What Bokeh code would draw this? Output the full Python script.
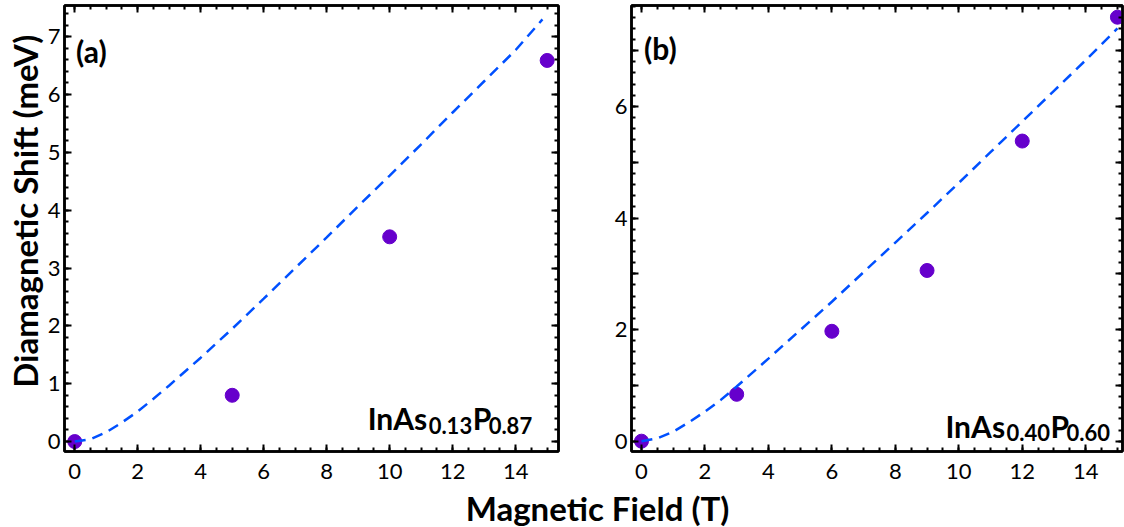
import numpy as np
from bokeh.plotting import figure
from bokeh.models import Range1d, LinearAxis, FixedTicker, Label
from bokeh.layouts import row, column
from bokeh.embed import file_html
from bokeh.resources import INLINE

# ---- measured data -------------------------------------------------------
field_a = [0, 5, 10, 15]
shift_a = [0.0, 0.80, 3.54, 6.59]

field_b = [0, 3, 6, 9, 12, 15]
shift_b = [0.0, 0.84, 1.97, 3.06, 5.38, 7.60]

# ---- fitted curves (sampled) ---------------------------------------------
fit_field_a = [0, 0.5, 1, 1.5, 2, 2.5, 3, 4, 5, 6, 7, 8, 9, 10, 11, 12, 13, 14, 14.85]
fit_shift_a = [0, 0.04, 0.16, 0.33, 0.52, 0.74, 0.97, 1.45, 1.95, 2.47, 3.00,
               3.53, 4.07, 4.60, 5.14, 5.69, 6.23, 6.77, 7.30]

fit_field_b = [0, 0.5, 1, 1.5, 2, 2.5, 3, 4, 5, 6, 7, 8, 9, 10, 11, 12, 13, 14, 15]
fit_shift_b = [0, 0.05, 0.17, 0.34, 0.53, 0.74, 0.98, 1.48, 1.99, 2.50, 3.03,
               3.56, 4.09, 4.63, 5.18, 5.73, 6.28, 6.83, 7.40]

x_ticks = [0, 2, 4, 6, 8, 10, 12, 14]
y_ticks_a = [0, 1, 2, 3, 4, 5, 6, 7]
y_ticks_b = [0, 1, 2, 3, 4, 5, 6, 7]
y_labels_b = {1: "", 3: "", 5: "", 7: ""}

FONT = "Lato"
POINT_COLOR = "#6600cc"
FIT_COLOR = "#0050ff"
ROW_H = 490
STRIP_W = 44


def style_axis(ax, ticks, show_labels=True):
    ax.axis_line_color = "black"
    ax.axis_line_width = 2.5
    ax.major_tick_line_color = "black"
    ax.minor_tick_line_color = "black"
    ax.major_tick_line_width = 2
    ax.minor_tick_line_width = 2
    ax.major_tick_in = 7
    ax.major_tick_out = 0
    ax.minor_tick_in = 4
    ax.minor_tick_out = 0
    ax.major_label_text_font = FONT
    ax.major_label_text_color = "black"
    ax.major_label_text_font_size = "22px"
    if not show_labels:
        ax.major_label_overrides = {t: "" for t in ticks}
        ax.major_label_standoff = 0


def make_panel(width, x_range, y_range, borders, y_major, y_minor):
    left, right, top, bottom = borders
    p = figure(width=width, height=ROW_H, x_range=Range1d(*x_range),
               y_range=Range1d(*y_range), output_backend="svg",
               toolbar_location=None, min_border_left=left,
               min_border_right=right, min_border_top=top,
               min_border_bottom=bottom, background_fill_color="white",
               border_fill_color="white")
    p.xgrid.visible = False
    p.ygrid.visible = False
    p.outline_line_color = "black"
    p.outline_line_width = 2.5

    x_minor = list(np.arange(0, 15.01, 0.5))
    xt = FixedTicker(ticks=x_ticks, minor_ticks=x_minor)
    yt = FixedTicker(ticks=y_major, minor_ticks=y_minor)

    p.xaxis.ticker = xt
    p.yaxis.ticker = yt
    style_axis(p.xaxis[0], x_ticks)
    style_axis(p.yaxis[0], y_major)
    p.xaxis[0].major_label_standoff = 12
    p.yaxis[0].major_label_standoff = 4

    top_ax = LinearAxis(ticker=xt)
    style_axis(top_ax, x_ticks, show_labels=False)
    p.add_layout(top_ax, "above")
    right_ax = LinearAxis(ticker=yt)
    style_axis(right_ax, y_major, show_labels=False)
    p.add_layout(right_ax, "right")
    return p


def add_formula(p, x, y, parts):
    # parts: (text, x_offset_px, is_subscript)
    for txt, dx, sub in parts:
        p.add_layout(Label(x=x, y=y, x_offset=dx, y_offset=-7 if sub else 0,
                           text=txt, text_font=FONT, text_font_style="bold",
                           text_font_size="22px" if sub else "30px",
                           text_align="left", text_baseline="alphabetic",
                           text_color="black"))


def add_tag(p, x, y, txt):
    p.add_layout(Label(x=x, y=y, text=txt, text_font=FONT,
                       text_font_style="bold", text_font_size="30px",
                       text_baseline="middle", text_align="left",
                       text_color="black"))


def title_strip(width, height):
    s = figure(width=width, height=height, x_range=Range1d(0, width),
               y_range=Range1d(0, height), min_border=0,
               toolbar_location=None, output_backend="svg",
               x_axis_location=None, y_axis_location=None,
               outline_line_color=None)
    s.xgrid.visible = False
    s.ygrid.visible = False
    return s


y_minor = list(np.arange(0, 7.81, 0.2))

# ---- shared y-axis title --------------------------------------------------
py = title_strip(STRIP_W, ROW_H)
py.add_layout(Label(x=24, y=ROW_H - 226, text="Diamagnetic Shift (meV)",
                    angle=np.pi / 2, text_font=FONT, text_font_style="bold",
                    text_font_size="33px", text_align="center",
                    text_baseline="middle", text_color="black"))

# ---- panel (a) ------------------------------------------------------------
pa = make_panel(595 - STRIP_W, (-0.325, 15.36), (-0.172, 7.54),
                (61 - STRIP_W, 37, 4, 38), y_ticks_a, y_minor)
pa.scatter(field_a, shift_a, size=14, color=POINT_COLOR)
pa.line(fit_field_a, fit_shift_a, line_color=FIT_COLOR, line_width=2.5,
        line_dash="11 7")
add_tag(pa, 0.04, 6.76, "(a)")
add_formula(pa, 9.30, 0.40, [("InAs", 0, False), ("0.13", 61, True),
                             ("P", 105, False), ("0.87", 121, True)])

# ---- panel (b) ------------------------------------------------------------
pb = make_panel(529, (-0.315, 15.16), (-0.185, 7.81), (36, 2, 5, 39),
                y_ticks_b, y_minor)
pb.yaxis[0].major_label_overrides = y_labels_b
pb.scatter(field_b, shift_b, size=14, color=POINT_COLOR)
pb.line(fit_field_b, fit_shift_b, line_color=FIT_COLOR, line_width=2.5,
        line_dash="11 7")
add_tag(pb, 0.08, 7.05, "(b)")
add_formula(pb, 9.58, 0.28, [("InAs", 0, False), ("0.40", 61, True),
                             ("P", 105, False), ("0.60", 121, True)])

# ---- shared x-axis title --------------------------------------------------
px = title_strip(1124, 37)
px.add_layout(Label(x=597, y=20, text="Magnetic Field (T)", text_font=FONT,
                    text_font_style="bold", text_font_size="33px",
                    text_align="center", text_baseline="alphabetic",
                    text_color="black"))

layout = column(row(py, pa, pb), px)
open("out.html", "w").write(file_html(layout, INLINE))
